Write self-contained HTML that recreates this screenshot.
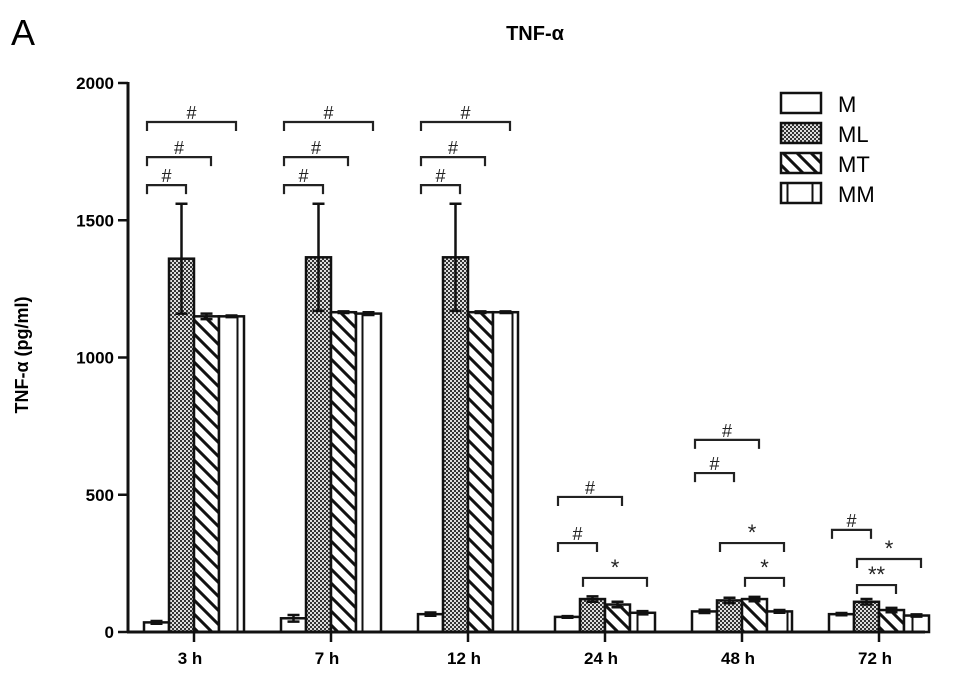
<!DOCTYPE html>
<html><head><meta charset="utf-8"><style>
body{margin:0;background:#fff}
svg text{font-family:"Liberation Sans",Arial,sans-serif}
</style></head><body>
<svg id="c" width="969" height="683" viewBox="0 0 969 683" xmlns="http://www.w3.org/2000/svg">
<defs>
<pattern id="pDot" width="4" height="4" patternUnits="userSpaceOnUse"><rect width="4" height="4" fill="#ddd"/><rect width="2" height="2" fill="#333"/><rect x="2" y="2" width="2" height="2" fill="#333"/></pattern>
<pattern id="pDiag" width="14" height="14" patternUnits="userSpaceOnUse"><rect width="14" height="14" fill="#fff"/><path d="M-2,-2 L16,16 M-9,5 L9,23 M5,-9 L23,9" stroke="#111" stroke-width="3"/></pattern>
<pattern id="pVert" width="25" height="10" patternUnits="userSpaceOnUse"><rect width="25" height="10" fill="#fff"/><path d="M12.5,0 V10" stroke="#111" stroke-width="2"/></pattern>
</defs>
<text x="11" y="45" font-size="36">A</text>
<text x="535" y="40" font-size="20" font-weight="bold" text-anchor="middle">TNF-α</text>
<text transform="translate(28,355) rotate(-90)" font-size="18" font-weight="bold" text-anchor="middle">TNF-α (pg/ml)</text>
<g id="plot"></g>
</svg>
<script>
const categories=["3 h","7 h","12 h","24 h","48 h","72 h"];
const series=["M","ML","MT","MM"];
const valM=[35,50,65,55,75,65];
const valML=[1360,1365,1365,120,115,110];
const valMT=[1150,1165,1165,100,120,80];
const valMM=[1150,1160,1165,70,75,60];
const errM=[5,12,6,3,6,4];
const errML=[200,195,195,10,10,10];
const errMT=[10,3,3,10,8,8];
const errMM=[3,5,3,6,5,4];
const yTicks=[0,500,1000,1500,2000];
// annotations: group, barA, barB, yValue, label
const annGroup=[0,0,0,1,1,1,2,2,2,3,3,3,4,4,4,4,5,5,5];
const annA=[0,0,0,0,0,0,0,0,0,0,0,1,0,0,1,2,0,1,1];
const annB=[1,2,3,1,2,3,1,2,3,1,2,3,1,2,3,3,1,3,2];
const annY=[1628,1730,1858,1628,1730,1858,1628,1730,1858,324,492,197,579,700,324,197,372,266,171];
const annL=["#","#","#","#","#","#","#","#","#","#","#","*","#","#","*","*","#","*","**"];

const NS="http://www.w3.org/2000/svg";
const g=document.getElementById('plot');
const y0=632,y1=83,xL=128,xR=925;
const y=v=>y0-(v/2000)*(y0-y1);
const bw=25;
const gx=i=>194+i*137;
const bx=(i,j)=>gx(i)-2*bw+j*bw;
function mk(t,a,p){const e=document.createElementNS(NS,t);for(const k in a)e.setAttribute(k,a[k]);(p||g).appendChild(e);return e;}
const fills=["#fff","url(#pDot)","url(#pDiag)","url(#pVert)"];
const vals=[valM,valML,valMT,valMM];const errs=[errM,errML,errMT,errMM];
let ax=mk('line',{x1:xL,y1:y1-1,x2:xL,y2:y0,stroke:'#111','stroke-width':3});

yTicks.forEach(t=>{
 let l=mk('line',{x1:xL-10,y1:y(t),x2:xL,y2:y(t),stroke:'#111','stroke-width':2.5});
 
 let tx=mk('text',{x:xL-14,y:y(t)+6,'font-size':17,'font-weight':'bold','text-anchor':'end'});
 tx.textContent=t;
 
});
categories.forEach((c,i)=>{
 vals.forEach((arr,j)=>{
  const v=arr[i],x=bx(i,j);
  let r=mk('rect',{x:x,y:y(v),width:bw,height:y0-y(v),fill:fills[j],stroke:'#111','stroke-width':2.5});
  
  
  const e=errs[j][i],cx=x+bw/2;
  let eb=mk('path',{d:`M${cx},${y(v-e)}V${y(v+e)}M${cx-6},${y(v+e)}H${cx+6}M${cx-6},${y(v-e)}H${cx+6}`,stroke:'#111','stroke-width':2.5,fill:'none'});
  
 });
 let tk=mk('line',{x1:gx(i),y1:y0,x2:gx(i),y2:y0+10,stroke:'#111','stroke-width':2.5});
 
 let tl=mk('text',{x:gx(i)-4,y:y0+32,'font-size':17,'font-weight':'bold','text-anchor':'middle'});
 tl.textContent=c;
 
});
let xa=mk('line',{x1:xL-1,y1:y0,x2:xR,y2:y0,stroke:'#111','stroke-width':3});

annGroup.forEach((gi,k)=>{
 const xa1=bx(gi,annA[k])+3,xb1=bx(gi,annB[k])+bw-8,yy=y(annY[k]);
 let p=mk('path',{d:`M${xa1},${yy+9}V${yy}H${xb1}V${yy+9}`,stroke:'#222','stroke-width':2.2,fill:'none'});
 
 let t=mk('text',{x:(xa1+xb1)/2,y:yy-3,'font-size':annL[k]=='#'?18:22,'text-anchor':'middle',fill:'#222'});
 t.textContent=annL[k];
 
});
series.forEach((s,j)=>{
 const ly=93+j*30;
 let r=mk('rect',{x:781,y:ly,width:40,height:20,fill:fills[j],stroke:'#111','stroke-width':2.5});
 
 let t=mk('text',{x:838,y:ly+19,'font-size':22});
 t.textContent=s;
 
});
</script>
</body></html>
